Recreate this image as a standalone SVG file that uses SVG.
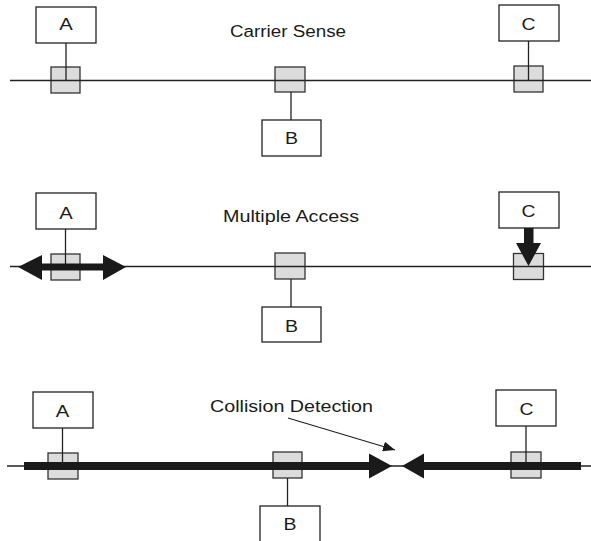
<svg xmlns="http://www.w3.org/2000/svg" width="591" height="541" viewBox="0 0 591 541">
<defs>
<style>
.box{fill:#fff;stroke:#222;stroke-width:1.3}
.tap{fill:#dcdcdc;stroke:#333;stroke-width:1.3}
.ln{stroke:#222;stroke-width:1.3;fill:none}
.lbl{font-family:"Liberation Sans",Arial,sans-serif;font-size:16px;fill:#1a1a1a}
.big{fill:#1a1a1a;stroke:none}
</style>
<marker id="ah" viewBox="0 0 12 10" refX="12" refY="5" markerWidth="12" markerHeight="10" markerUnits="userSpaceOnUse" orient="auto">
<path d="M0,0 L12,5 L0,10 Z" fill="#1a1a1a"/>
</marker>
</defs>
<rect width="591" height="541" fill="#fff"/>

<!-- Panel 1 -->
<g id="p1-bus">
<rect class="tap" x="51" y="67" width="29" height="26"/>
<rect class="tap" x="275" y="67" width="30" height="25"/>
<rect class="tap" x="514" y="66" width="29" height="26"/>
<line class="ln" x1="10" y1="80.5" x2="591" y2="80.5"/>
</g>
<g id="p1-A">
<rect class="box" x="36" y="7" width="60" height="36"/>
<text class="lbl" x="66" y="29.5" text-anchor="middle" textLength="13.5" lengthAdjust="spacingAndGlyphs">A</text>
</g>
<g id="p1-B">
<rect class="box" x="262" y="120" width="59" height="36"/>
<text class="lbl" x="291.5" y="143.5" text-anchor="middle" textLength="13" lengthAdjust="spacingAndGlyphs">B</text>
</g>
<g id="p1-C">
<rect class="box" x="499" y="5" width="60" height="36"/>
<text class="lbl" x="528.5" y="30" text-anchor="middle" textLength="14" lengthAdjust="spacingAndGlyphs">C</text>
</g>
<text id="p1-title" class="lbl" x="230" y="36.5" textLength="116" lengthAdjust="spacingAndGlyphs">Carrier Sense</text>

<!-- Panel 2 -->
<g id="p2-bus">
<rect class="tap" x="51" y="254" width="29" height="26"/>
<rect class="tap" x="275" y="253" width="30" height="26"/>
<rect class="tap" x="513.5" y="253.5" width="30" height="26"/>
<line class="ln" x1="10" y1="266.5" x2="591" y2="266.5"/>
</g>
<g id="p2-A">
<rect class="box" x="36" y="193" width="60" height="36"/>
<text class="lbl" x="66" y="218.5" text-anchor="middle" textLength="13.5" lengthAdjust="spacingAndGlyphs">A</text>
</g>
<g id="p2-B">
<rect class="box" x="262" y="307" width="59" height="35"/>
<text class="lbl" x="291.5" y="331.5" text-anchor="middle" textLength="13" lengthAdjust="spacingAndGlyphs">B</text>
</g>
<g id="p2-C">
<rect class="box" x="499" y="192" width="60" height="36"/>
<text class="lbl" x="528.5" y="217" text-anchor="middle" textLength="14" lengthAdjust="spacingAndGlyphs">C</text>
</g>
<text id="p2-title" class="lbl" x="223" y="221.5" textLength="136" lengthAdjust="spacingAndGlyphs">Multiple Access</text>

<!-- Panel 3 -->
<g id="p3-bus">
<rect class="tap" x="48" y="453" width="30" height="26"/>
<rect class="tap" x="273" y="452" width="29" height="26"/>
<rect class="tap" x="511" y="452" width="30" height="26"/>
<line class="ln" x1="7" y1="466" x2="591" y2="466"/>
</g>
<g id="p3-A">
<rect class="box" x="33" y="392" width="60" height="36"/>
<text class="lbl" x="62.5" y="416.5" text-anchor="middle" textLength="13.5" lengthAdjust="spacingAndGlyphs">A</text>
</g>
<g id="p3-B">
<rect class="box" x="260" y="506" width="60" height="40"/>
<text class="lbl" x="290" y="530" text-anchor="middle" textLength="13" lengthAdjust="spacingAndGlyphs">B</text>
</g>
<g id="p3-C">
<rect class="box" x="496" y="390" width="60" height="36"/>
<text class="lbl" x="526.5" y="415" text-anchor="middle" textLength="14" lengthAdjust="spacingAndGlyphs">C</text>
</g>
<text id="p3-title" class="lbl" x="210" y="411.5" textLength="163" lengthAdjust="spacingAndGlyphs">Collision Detection</text>

<!-- Connectors -->
<g id="connectors">
<line class="ln" x1="66" y1="43" x2="66" y2="80.5"/>
<line class="ln" x1="291" y1="92" x2="291" y2="120"/>
<line class="ln" x1="528.5" y1="41" x2="528.5" y2="80.5"/>

<line class="ln" x1="65.5" y1="229" x2="65.5" y2="266.5"/>
<line class="ln" x1="291" y1="279" x2="291" y2="307"/>
<polygon class="big" points="18,267 42,255 42,263.5 103,263.5 103,255 126,267 103,280 103,270.5 42,270.5 42,280"/>
<polygon class="big" points="524,228 533.5,228 533.5,243 541,243 528.5,266 516,243 524,243"/>

<line class="ln" x1="62.5" y1="428" x2="62.5" y2="466"/>
<line class="ln" x1="287.5" y1="478" x2="287.5" y2="506"/>
<line class="ln" x1="526" y1="426" x2="526" y2="466"/>
<polygon class="big" points="24,462 369,462 369,453.5 392,466 369,478.5 369,470 24,470"/>
<polygon class="big" points="581,462 424,462 424,453.5 402,466 424,478.5 424,470 581,470"/>
<line class="ln" x1="288" y1="418" x2="395" y2="450" marker-end="url(#ah)"/>
</g>
</svg>
